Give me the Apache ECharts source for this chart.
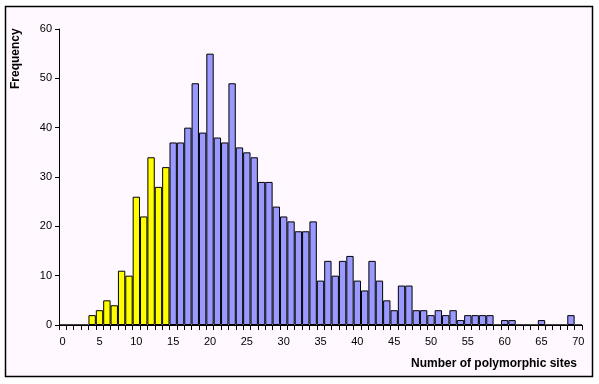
<!DOCTYPE html>
<html>
<head>
<meta charset="utf-8">
<script src="https://cdn.jsdelivr.net/npm/echarts@6/dist/echarts.min.js"></script>
<style>
html,body{margin:0;padding:0;background:#fff;}
#c{width:599px;height:384px;}
</style>
</head>
<body>
<div id="c"></div>
<script>
// Number of polymorphic sites (categories 0..70)
var categories = [];
for (var i = 0; i <= 70; i++) categories.push(String(i));
// Frequency per category
var frequencies = [
  0, 0, 0, 0, 2, 3, 5, 4, 11, 10,
  26, 22, 34, 28, 32, 37, 37, 40, 49, 39,
  55, 38, 37, 49, 36, 35, 34, 29, 29, 24,
  22, 21, 19, 19, 21, 9, 13, 10, 13, 14,
  9, 7, 13, 9, 5, 3, 8, 8, 3, 3,
  2, 3, 2, 3, 1, 2, 2, 2, 2, 0,
  1, 1, 0, 0, 0, 1, 0, 0, 0, 2,
  0
];
var yellowBelow = 15; // categories below this value are drawn yellow
var yTicks = { min: 0, max: 60, interval: 10 };
var xAxisTitle = 'Number of polymorphic sites';
var yAxisTitle = 'Frequency';

var chart = echarts.init(document.getElementById('c'), null, {renderer: 'canvas'});
var font = '"Liberation Sans", Arial, sans-serif';
chart.setOption({
  backgroundColor: '#ffffff',
  animation: false,
  grid: {left: 59, right: 17, top: 29, bottom: 59, containLabel: false},
  graphic: [
    {type: 'rect', z: -10, silent: true,
     shape: {x: 5.5, y: 6.5, width: 587, height: 370},
     style: {fill: '#FFF8FF', stroke: '#000', lineWidth: 1.5}},
    {type: 'text', left: 411, top: 358, z: 10,
     style: {text: xAxisTitle, font: 'bold 12px ' + font, fill: '#000'}},
    {type: 'text', x: 10, y: 89, rotation: Math.PI / 2, z: 10,
     style: {text: yAxisTitle, font: 'bold 12px ' + font, fill: '#000'}}
  ],
  xAxis: {
    type: 'category',
    data: categories,
    boundaryGap: true,
    axisLine: {lineStyle: {color: '#000', width: 1}},
    axisTick: {show: true, interval: 0, length: 5, lineStyle: {color: '#000'}},
    axisLabel: {interval: 4, color: '#000', fontSize: 11, fontFamily: font, margin: 11}
  },
  yAxis: {
    type: 'value',
    min: yTicks.min, max: yTicks.max, interval: yTicks.interval,
    splitLine: {show: false},
    axisLine: {show: true, lineStyle: {color: '#000', width: 1}},
    axisTick: {show: true, length: 4, lineStyle: {color: '#000'}},
    axisLabel: {color: '#000', fontSize: 11, fontFamily: font, margin: 7}
  },
  series: [{
    type: 'bar',
    data: frequencies,
    barCategoryGap: '0%',
    itemStyle: {
      borderColor: '#000',
      borderWidth: 1,
      color: function (p) { return Number(categories[p.dataIndex]) < yellowBelow ? '#FFFF00' : '#9999FF'; }
    }
  }]
});
</script>
</body>
</html>
